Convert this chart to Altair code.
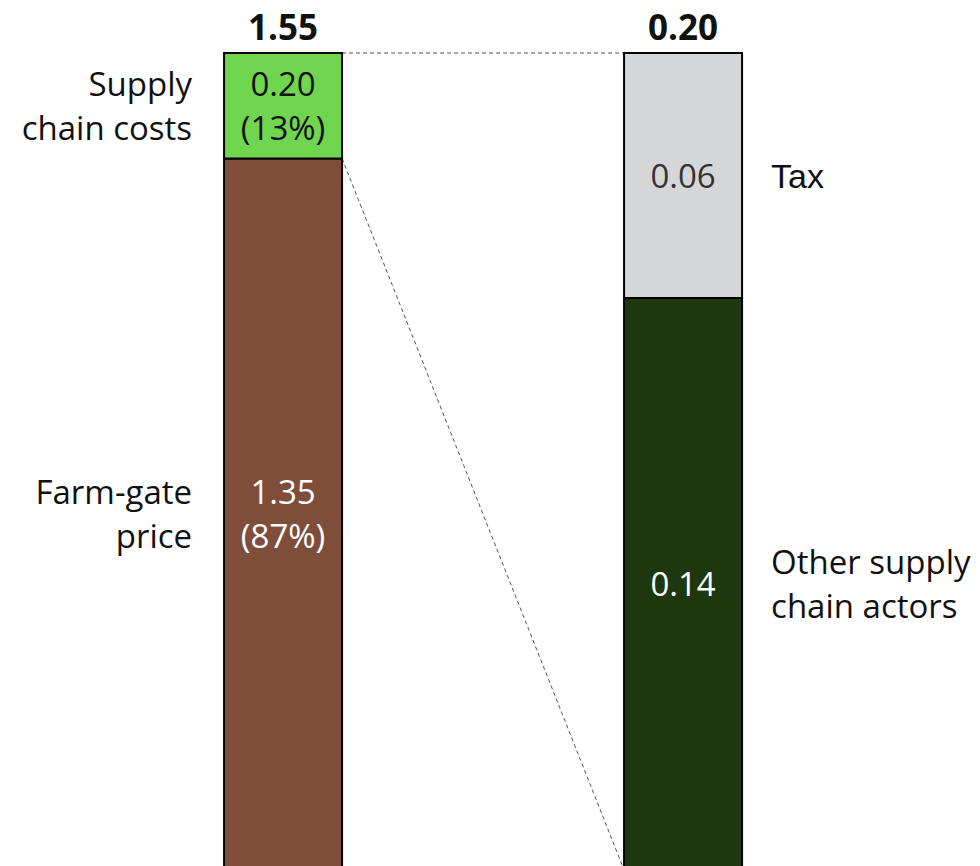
import altair as alt
import pandas as pd

# ---- data ----
bar_names = ["total", "breakdown"]
seg_bar = ["total", "total", "breakdown", "breakdown"]
seg_names = ["Farm-gate price", "Supply chain costs", "Other supply chain actors", "Tax"]
seg_values = [1.35, 0.20, 0.14, 0.06]
seg_colors = ["#7F4E3B", "#70D650", "#1E370F", "#D5D6D8"]
side_labels = ["Farm-gate\nprice", "Supply\nchain costs", "Other supply\nchain actors", "Tax"]
show_pct = [True, True, False, False]
value_text_colors = ["#FFFFFF", "#111111", "#FFFFFF", "#333333"]

FONT = "Open Sans"
FS = 33
LH = 44

# ---- derived tables ----
totals = {b: sum(v for bb, v in zip(seg_bar, seg_values) if bb == b) for b in bar_names}
rows = []
cum = {b: 0.0 for b in bar_names}
for b, n, v, c, lab, pct, tc in zip(seg_bar, seg_names, seg_values, seg_colors,
                                     side_labels, show_pct, value_text_colors):
    t = totals[b]
    y0 = cum[b] / t
    y1 = (cum[b] + v) / t
    cum[b] += v
    txt = f"{v:.2f}" + (f"\n({round(100 * v / t):.0f}%)" if pct else "")
    rows.append(dict(bar=b, seg=n, value=v, y0=y0, y1=y1, mid=(y0 + y1) / 2,
                     fill=c, label=lab, vtext=txt, tcolor=tc,
                     vmulti="\n" in txt, lmulti="\n" in lab))
seg_df = pd.DataFrame(rows)

tot_df = pd.DataFrame({"bar": bar_names, "top": [1.0, 1.0],
                       "ttext": [f"{totals[b]:.2f}" for b in bar_names]})

# connectors: from the total bar to the breakdown bar
zoom_low = seg_values[0] / totals["total"]
conn_df = pd.DataFrame({
    "from": ["total", "total"],
    "to": ["breakdown", "breakdown"],
    "y_from": [1.0, zoom_low],
    "y_to": [1.0, 0.0],
})

xscale = alt.Scale(domain=bar_names, paddingInner=0.705, paddingOuter=0.5775, align=0.485)
yscale = alt.Scale(domain=[0.0049, 1.0649], nice=False, zero=False)

conn = alt.Chart(conn_df).mark_rule(strokeDash=[4, 3], color="#555555", strokeWidth=1, clip=True).encode(
    x=alt.X("from:N", scale=xscale, axis=None, bandPosition=1),
    x2=alt.X2("to:N", bandPosition=0),
    y=alt.Y("y_from:Q", scale=yscale, axis=None),
    y2="y_to:Q",
)

bars = alt.Chart(seg_df).mark_bar(stroke="#000000", strokeWidth=2, clip=True).encode(
    x=alt.X("bar:N", scale=xscale, axis=None),
    y=alt.Y("y0:Q", scale=yscale, axis=None),
    y2="y1:Q",
    fill=alt.Fill("fill:N", scale=None),
)


def value_layer(multi):
    return alt.Chart(seg_df).transform_filter(
        alt.datum.vmulti if multi else ~alt.datum.vmulti
    ).mark_text(font=FONT, fontSize=FS, lineBreak="\n", lineHeight=LH,
                baseline="middle", align="center", dy=-20 if multi else 2).encode(
        x=alt.X("bar:N", scale=xscale, axis=None),
        y=alt.Y("mid:Q", scale=yscale, axis=None),
        text="vtext:N",
        color=alt.Color("tcolor:N", scale=None),
    )


def label_layer(bar, multi, font=FONT, fs=FS):
    left = bar == "total"
    cond = (alt.datum.bar == bar) & (alt.datum.lmulti if multi else ~alt.datum.lmulti)
    return alt.Chart(seg_df).transform_filter(cond).mark_text(
        font=font, fontSize=fs, lineBreak="\n", lineHeight=LH, baseline="middle",
        align="right" if left else "left", dx=-32 if left else 29,
        dy=-20 if multi else 2, color="#111111").encode(
        x=alt.X("bar:N", scale=xscale, axis=None, bandPosition=0 if left else 1),
        y=alt.Y("mid:Q", scale=yscale, axis=None),
        text="label:N",
    )


tops = alt.Chart(tot_df).mark_text(font=FONT, fontSize=35, fontWeight="bold", baseline="alphabetic",
                                   align="center", dy=-13, color="#111111").encode(
    x=alt.X("bar:N", scale=xscale, axis=None),
    y=alt.Y("top:Q", scale=yscale, axis=None),
    text="ttext:N",
)

chart = alt.layer(
    conn, bars, value_layer(True), value_layer(False),
    label_layer("total", True),
    label_layer("breakdown", True),
    label_layer("breakdown", False, font="Liberation Sans", fs=34),
    tops,
).properties(
    width=980, height=866, padding=0, autosize=alt.AutoSizeParams(type="none"),
    background="#FFFFFF",
).configure_view(stroke=None)

chart.save("out.html", embed_options={"renderer": "svg", "actions": False})
